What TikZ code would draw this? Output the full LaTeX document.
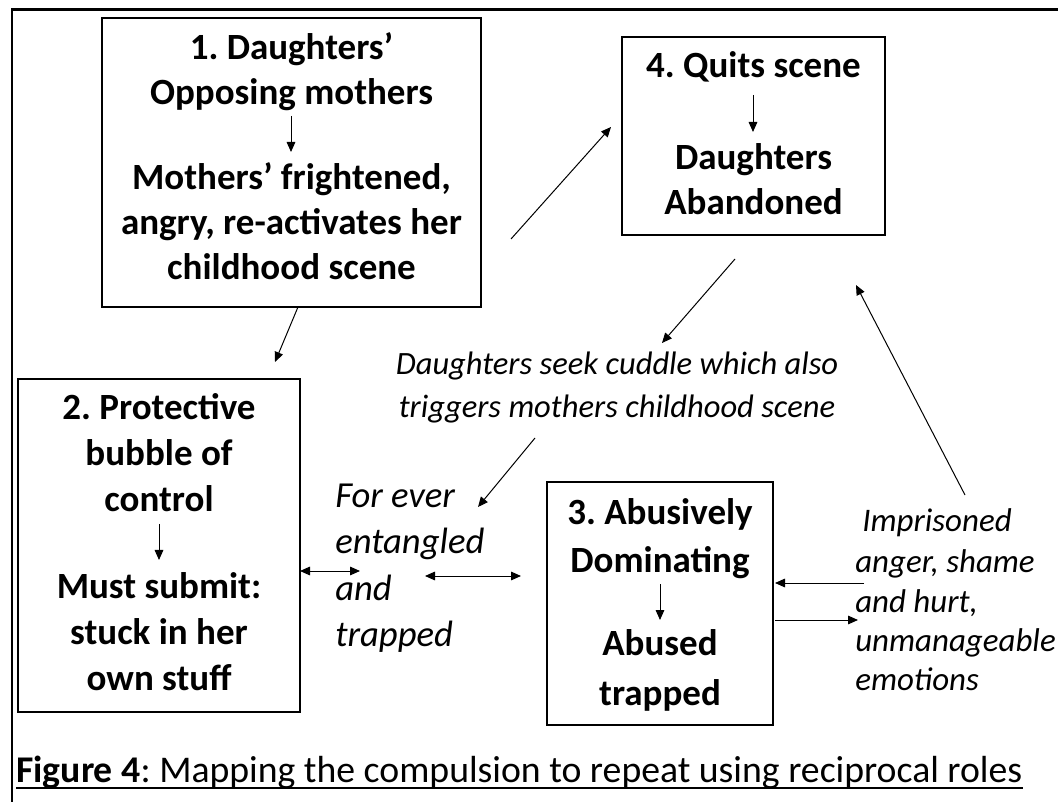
\documentclass[tikz,border=0pt]{standalone}
\usepackage{fontspec}
\setmainfont{Carlito}
\usetikzlibrary{arrows.meta,fit}
\frenchspacing
\begin{document}
\begin{tikzpicture}[x=0.75pt,y=-0.75pt,
  box/.style={draw, line width=1.25pt, inner sep=0pt},
  btxt/.style={anchor=base, font=\fontsize{27.75}{33}\selectfont\bfseries, inner sep=0pt},
  itxtL/.style={anchor=base west, font=\fontsize{27.5}{33}\selectfont\itshape, inner sep=0pt},
  itxtR/.style={anchor=base west, font=\fontsize{24.7}{30}\selectfont\itshape, inner sep=0pt},
  itxtT/.style={anchor=base, font=\fontsize{24.4}{30}\selectfont\itshape, inner sep=0pt},
  arr/.style={-{Triangle[length=7.5pt,width=6.5pt]}, line width=0.75pt},
  darr/.style={{Triangle[length=7.5pt,width=6.5pt]}-{Triangle[length=7.5pt,width=6.5pt]}, line width=0.75pt}]
\useasboundingbox (0,0) rectangle (1058,802);
% outer frame (top and left only)
\draw[line width=2pt] (1058,9.5) -- (12,9.5) -- (12,802);

% boxes
\node[box, fit={(102,18)(481,307)}] (B1) {};
\node[box, fit={(622,37)(885,235)}] (B4) {};
\node[box, fit={(18,379)(300,712)}] (B2) {};
\node[box, fit={(547,482)(773,725)}] (B3) {};

% box 1 text
\node[btxt] (b1a) at (291.5,60) {1. Daughters’};
\node[btxt] (b1b) at (291.5,105) {Opposing mothers};
\node[btxt] (b1c) at (291.5,190) {Mothers’ frightened,};
\node[btxt] (b1d) at (291.5,235) {angry, re-activates her};
\node[btxt] (b1e) at (291.5,280) {childhood scene};
\coordinate (a1s) at (291,116);
\coordinate (a1e) at (291,152);
\draw[arr] (a1s) -- (a1e);

% box 4 text
\node[btxt] (b4a) at (753.5,78) {4. Quits scene};
\node[btxt] (b4b) at (753.5,170) {Daughters};
\node[btxt] (b4c) at (753.5,215) {Abandoned};
\coordinate (a4s) at (753,95);
\coordinate (a4e) at (753,132);
\draw[arr] (a4s) -- (a4e);

% box 2 text
\node[btxt] (b2a) at (159,420) {2. Protective};
\node[btxt] (b2b) at (159,466) {bubble of};
\node[btxt] (b2c) at (159,512) {control};
\node[btxt] (b2d) at (159,598) {Must submit:};
\node[btxt] (b2e) at (159,644) {stuck in her};
\node[btxt] (b2f) at (159,690) {own stuff};
\coordinate (a2s) at (159,524);
\coordinate (a2e) at (159,560);
\draw[arr] (a2s) -- (a2e);

% box 3 text
\node[btxt] (b3a) at (660,525) {3. Abusively};
\node[btxt] (b3b) at (660,572) {Dominating};
\node[btxt] (b3c) at (660,655) {Abused};
\node[btxt] (b3d) at (660,705) {trapped};
\coordinate (a3s) at (660,584);
\coordinate (a3e) at (660,620);
\draw[arr] (a3s) -- (a3e);

% italic labels
\node[itxtT] (t1) at (617,375) {Daughters seek cuddle which also};
\node[itxtT] (t2) at (617,418) {triggers mothers childhood scene};

\node[itxtL] (l1) at (335,508) {For ever};
\node[itxtL] (l2) at (335,554) {entangled};
\node[itxtL] (l3) at (335,600) {and};
\node[itxtL] (l4) at (335,646) {trapped};

\node[itxtR] (r1) at (862,532) {Imprisoned};
\node[itxtR] (r2) at (855,572) {anger, shame};
\node[itxtR] (r3) at (855,612) {and hurt,};
\node[itxtR] (r4) at (855,651) {unmanageable};
\node[itxtR] (r5) at (855,690) {emotions};

% caption
\node[anchor=base west, inner sep=0pt, font=\fontsize{28.3}{34}\selectfont] (cap) at (16,782) {\textbf{Figure 4}: Mapping the compulsion to repeat using reciprocal roles};
\draw[line width=1.1pt] ([yshift=-4.5pt]cap.base west) -- ([yshift=-4.5pt]cap.base east);

% connectors
\coordinate (c1s) at (511,239);
\coordinate (c1e) at (611,127);
\draw[arr] (c1s) -- (c1e);

\coordinate (c2s) at (298,307);
\coordinate (c2e) at (275,362);
\draw[arr] (c2s) -- (c2e);

\coordinate (c3s) at (735,259);
\coordinate (c3e) at (662,343);
\draw[arr] (c3s) -- (c3e);

\coordinate (c4s) at (535,438);
\coordinate (c4e) at (478,507);
\draw[arr] (c4s) -- (c4e);

\coordinate (c5s) at (965,495);
\coordinate (c5e) at (856,285);
\draw[arr] (c5s) -- (c5e);

\coordinate (d1s) at (300,571);
\coordinate (d1e) at (360,571);
\draw[darr] (d1s) -- (d1e);

\coordinate (d2s) at (425,576);
\coordinate (d2e) at (521,576);
\draw[darr] (d2s) -- (d2e);

\coordinate (e1s) at (864,583);
\coordinate (e1e) at (775,583);
\draw[arr] (e1s) -- (e1e);

\coordinate (e2s) at (775,620);
\coordinate (e2e) at (858,620);
\draw[arr] (e2s) -- (e2e);
\end{tikzpicture}
\end{document}
